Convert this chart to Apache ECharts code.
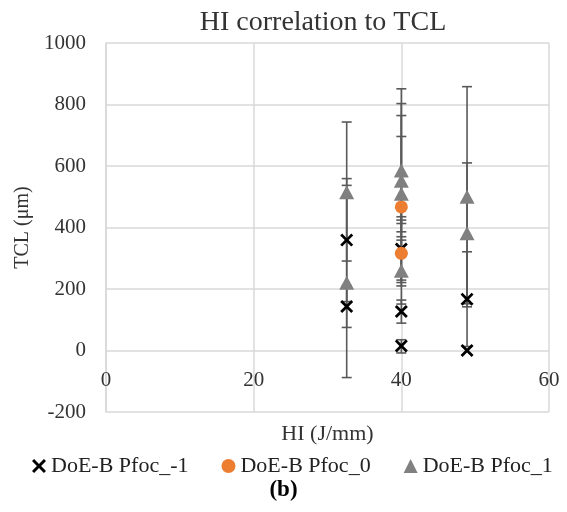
<!DOCTYPE html>
<html>
<head>
<meta charset="utf-8">
<script src="https://cdn.jsdelivr.net/npm/echarts@6/dist/echarts.min.js"></script>
<style>
  html, body { margin: 0; padding: 0; background: #fff; }
  #chart { width: 567px; height: 512px; }
</style>
</head>
<body>
<div id="chart"></div>
<script>
// DoE-B Pfoc_-1
const hiM1 = [32.6, 32.6, 40, 40, 40, 48.9, 48.9];
const tclM1 = [359, 143, 330, 127, 15, 167, 0];
const upM1 = [200, 68, 105, 37, 20, 154, 0];
const downM1 = [200, 68, 109, 38, 23, 154, 0];

// DoE-B Pfoc_0
const hi0 = [40, 40];
const tcl0 = [467, 316];
const up0 = [229, 108];
const down0 = [238, 106];

// DoE-B Pfoc_1
const hi1 = [32.6, 32.6, 40, 40, 40, 40, 48.9, 48.9];
const tcl1 = [515, 220, 585, 552, 510, 259, 500, 381];
const up1 = [228, 317, 266, 251, 254, 100, 358, 229];
const down1 = [224, 308, 199, 182, 97, 108, 358, 229];

const names = ['DoE-B Pfoc_-1', 'DoE-B Pfoc_0', 'DoE-B Pfoc_1'];
const xTicks = [0, 20, 40, 60];
const yTicks = [-200, 0, 200, 400, 600, 800, 1000];

const serif = '"Liberation Serif", "DejaVu Serif", serif';
const crossPath = 'path://M0,1.5 L1.5,0 L5,3.5 L8.5,0 L10,1.5 L6.5,5 L10,8.5 L8.5,10 L5,6.5 L1.5,10 L0,8.5 L3.5,5 Z';

function pts(xs, ys) { return xs.map((x, i) => [x, ys[i]]); }
function errs(xs, ys, up, down) { return xs.map((x, i) => [x, ys[i], up[i], down[i]]); }

// vertical error bar with caps
function renderErr(params, api) {
  const x = api.value(0), y = api.value(1), u = api.value(2), d = api.value(3);
  const top = api.coord([x, y + u]);
  const bot = api.coord([x, y - d]);
  const st = { stroke: '#595959', lineWidth: 1.6 };
  const kids = [{ type: 'line', shape: { x1: top[0], y1: top[1], x2: bot[0], y2: bot[1] }, style: st }];
  const cw = 5;
  if (u > 0) kids.push({ type: 'line', shape: { x1: top[0] - cw, y1: top[1], x2: top[0] + cw, y2: top[1] }, style: st });
  if (d > 0) kids.push({ type: 'line', shape: { x1: bot[0] - cw, y1: bot[1], x2: bot[0] + cw, y2: bot[1] }, style: st });
  return { type: 'group', children: kids };
}

const chart = echarts.init(document.getElementById('chart'));
chart.setOption({
  animation: false,
  title: {
    text: 'HI correlation to TCL',
    left: 318, top: 4, textAlign: 'center',
    textStyle: { fontFamily: serif, fontSize: 28, fontWeight: 'normal', color: '#333' }
  },
  grid: { left: 106, right: 18, top: 43, bottom: 100 },
  legend: {
    top: 450, left: 27,
    itemGap: 33, itemWidth: 14, itemHeight: 14,
    textStyle: { fontFamily: serif, fontSize: 22, color: '#222' },
    data: [
      { name: names[0], icon: crossPath, itemStyle: { color: '#000' } },
      { name: names[1], icon: 'circle', itemStyle: { color: '#ED7D31' } },
      { name: names[2], icon: 'triangle', itemStyle: { color: '#808080' } }
    ]
  },
  graphic: [{
    type: 'text', left: 'center', top: 479,
    style: { text: '(b)', font: 'bold 23px ' + serif, fill: '#000' }
  }],
  xAxis: {
    type: 'value', min: xTicks[0], max: xTicks[xTicks.length - 1], interval: 20,
    offset: -61,
    name: 'HI (J/mm)', nameLocation: 'middle', nameGap: 72,
    nameTextStyle: { fontFamily: serif, fontSize: 22, color: '#333' },
    axisLine: { show: false },
    axisTick: { show: false },
    axisLabel: { margin: 19, fontFamily: serif, fontSize: 21, color: '#333' },
    splitLine: { show: true, lineStyle: { color: '#d9d9d9', width: 1.5 } }
  },
  yAxis: {
    type: 'value', min: yTicks[0], max: yTicks[yTicks.length - 1], interval: 200,
    name: 'TCL (μm)', nameLocation: 'middle', nameGap: 69, nameRotate: 90,
    nameTextStyle: { fontFamily: serif, fontSize: 20, color: '#333' },
    axisLine: { show: true, onZero: false, lineStyle: { color: '#d9d9d9', width: 1.5 } },
    axisTick: { show: false },
    axisLabel: { margin: 20, fontFamily: serif, fontSize: 21, color: '#333', formatter: v => String(v) },
    splitLine: { show: true, lineStyle: { color: '#d9d9d9', width: 1.5 } }
  },
  series: [
    { type: 'custom', name: names[0], renderItem: renderErr, data: errs(hiM1, tclM1, upM1, downM1), z: 2, silent: true },
    { type: 'custom', name: names[1], renderItem: renderErr, data: errs(hi0, tcl0, up0, down0), z: 2, silent: true },
    { type: 'custom', name: names[2], renderItem: renderErr, data: errs(hi1, tcl1, up1, down1), z: 2, silent: true },
    { type: 'scatter', name: names[0], symbol: crossPath, symbolSize: 13, itemStyle: { color: '#000', opacity: 1 }, data: pts(hiM1, tclM1), z: 3 },
    { type: 'scatter', name: names[1], symbol: 'circle', symbolSize: 13, itemStyle: { color: '#ED7D31', opacity: 1 }, data: pts(hi0, tcl0), z: 4 },
    { type: 'scatter', name: names[2], symbol: 'triangle', symbolSize: [15, 14], itemStyle: { color: '#808080', opacity: 1 }, data: pts(hi1, tcl1), z: 5 }
  ]
});
</script>
</body>
</html>
